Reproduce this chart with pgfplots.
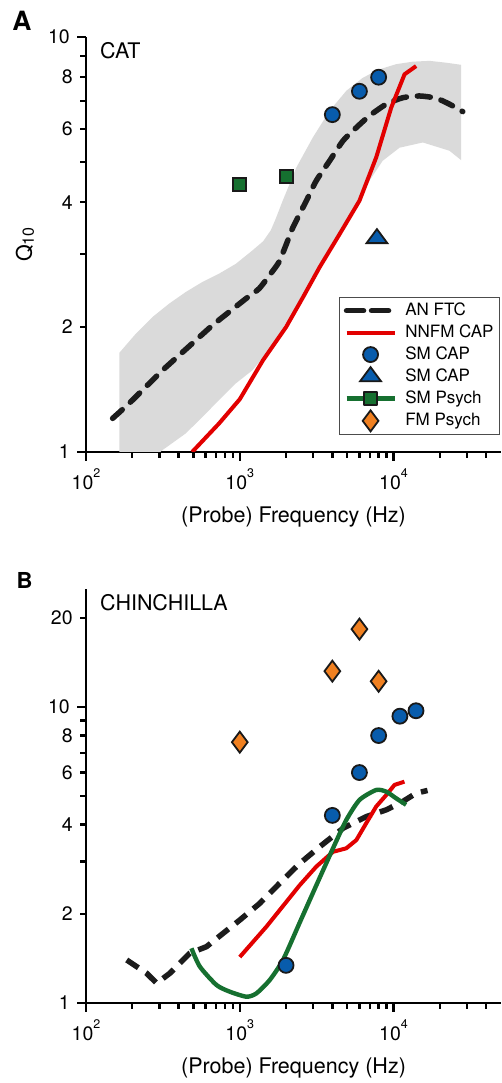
\documentclass[border=0pt]{standalone}
\usepackage{fontspec}
\setmainfont{TeX Gyre Heros}
\usepackage{pgfplots}
\pgfplotsset{compat=1.18}

\definecolor{bandgray}{RGB}{218,218,218}
\definecolor{capred}{RGB}{226,0,0}
\definecolor{psgreen}{RGB}{22,112,48}
\definecolor{smblue}{RGB}{8,92,172}
\definecolor{fmorange}{RGB}{240,128,32}
\definecolor{ftcblack}{RGB}{28,28,28}
\definecolor{edgeblack}{RGB}{25,25,25}

\newcommand\sups[1]{\raisebox{12pt}{\fontsize{12.5}{12.5}\selectfont #1}}

\pgfplotsset{
  legend image code/.code={\draw[mark repeat=2,mark phase=2,#1] plot coordinates {(0pt,0pt) (24pt,0pt) (48pt,0pt)};},
  ftc/.style={color=ftcblack, line width=5.5pt, dash pattern=on 13pt off 11pt, line cap=round, line join=round},
  nnfm/.style={color=capred, line width=4pt, line join=round},
  psline/.style={color=psgreen, line width=4.4pt, line join=round},
  circ/.style={mark=*, mark size=7.5pt, mark options={fill=smblue, draw=edgeblack, line width=1.8pt, solid}},
  tri/.style={mark=triangle*, mark size=12pt, mark options={fill=smblue, draw=edgeblack, line width=1.8pt, yscale=0.78, solid}},
  sq/.style={mark=square*, mark size=6.5pt, mark options={fill=psgreen, draw=edgeblack, line width=2pt, solid}},
  diam/.style={mark=diamond*, mark size=10.5pt, mark options={fill=fmorange, draw=edgeblack, line width=1.8pt, solid}},
}

\begin{document}
\fontsize{21.5}{24}\selectfont
\begin{tikzpicture}
\useasboundingbox (0,0) rectangle (501pt,1083pt);

% ---------------- Panel A: CAT ----------------
\begin{axis}[
    scale only axis, xmode=log, ymode=log, width=415pt, height=415pt,
    at={(86pt,631pt)}, anchor=south west,
    xmin=100, xmax=50000, ymin=1, ymax=10,
    axis x line*=bottom, axis y line*=left,
    axis line style={line width=2.6pt, black},
    tick align=outside,
    major tick length=9pt, minor tick length=6pt,
    tick style={black, line width=2.4pt},
    xtick={100,1000,10000},
    xticklabels={10\sups{2},10\sups{3},10\sups{4}},
    minor xtick={200,300,400,500,600,700,800,900,2000,3000,4000,5000,6000,7000,8000,9000,20000,30000,40000},
    ytick={1,10}, yticklabels={1,10},
    minor ytick={2,3,4,5,6,7,8,9},
    extra y ticks={2,4,6,8}, extra y tick labels={2,4,6,8},
    extra y tick style={major tick length=6pt},
    tick label style={font=\fontsize{19.5}{20}\selectfont},
    xlabel={(Probe) Frequency (Hz)},
    xlabel style={at={(axis description cs:0.5,-0.157)}, anchor=center, font=\fontsize{21.5}{24}\selectfont},
    ylabel={Q\raisebox{-2pt}{\fontsize{16}{16}\selectfont 10}},
    ylabel style={at={(axis description cs:-0.147,0.5)}, anchor=center, font=\fontsize{21.5}{24}\selectfont},
    legend style={at={(rel axis cs:0.998,0.041)}, anchor=south east, draw=black!70, line width=1.2pt,
      fill=white, font=\fontsize{17}{20}\selectfont, inner xsep=4pt, inner ysep=3pt,
      row sep=2pt, column sep=6pt, cells={anchor=west}},
]
% AN FTC range band
\addplot[fill=bandgray, draw=none, forget plot] coordinates {
(164.6,0.85) (164.6,1.733) (211,1.928) (271,2.115) (347,2.277) (446,2.43) (573,2.57)
(734,2.69) (942,2.84) (1209,3.06) (1420,3.22) (1590,3.42) (1714,3.65) (1901,4.03) (2335,4.85) (2990,5.73)
(3840,6.64) (4930,7.42) (6320,7.98) (8110,8.36) (10400,8.60) (13340,8.72) (17140,8.76)
(22000,8.67) (27500,8.57) (27500,5.05) (23100,5.32) (15500,5.57) (10940,5.41) (8490,5.03)
(7100,4.55) (6010,4.03) (4460,3.36) (3310,2.80) (2565,2.37) (1990,2.04) (1550,1.758) (1209,1.574)
(942,1.463) (734,1.334) (573,1.216) (446,1.109) (315,1.011) (240,0.93)
} -- cycle;
% AN FTC mean
\addplot[ftc, forget plot, smooth, tension=0.4] coordinates {
(149,1.205) (191,1.31) (245,1.436) (315,1.574) (404,1.711) (518,1.859) (665,2.02)
(853,2.175) (1094,2.34) (1335,2.475) (1590,2.69) (1800,2.87) (1990,3.14) (2220,3.48)
(2710,4.03) (3150,4.51) (3840,5.03) (4690,5.62) (5730,6.05) (6980,6.46) (8970,6.89)
(11500,7.14) (14750,7.21) (18930,7.12) (23100,6.89) (28200,6.61)
};
% NNFM CAP
\addplot[nnfm, forget plot] coordinates {
(490,1.0) (734,1.172) (1000,1.34) (1416,1.664) (2000,2.0) (2578,2.36) (3310,2.79)
(4460,3.35) (6000,4.03) (7720,5.13) (9660,6.76) (11790,8.13) (14030,8.51)
};
\addplot[only marks, circ, forget plot] coordinates {(4000,6.5) (6000,7.4) (8000,8.0)};
\addplot[only marks, tri, forget plot] coordinates {(7800,3.27)};
\addplot[only marks, sq, forget plot] coordinates {(1000,4.4) (2000,4.6)};

\addlegendimage{ftc, dash pattern=on 17pt off 8pt}
\addlegendentry{AN FTC}
\addlegendimage{nnfm}
\addlegendentry{NNFM CAP}
\addlegendimage{only marks, circ}
\addlegendentry{SM CAP}
\addlegendimage{only marks, tri}
\addlegendentry{SM CAP}
\addlegendimage{psline, sq}
\addlegendentry{SM Psych}
\addlegendimage{only marks, diam}
\addlegendentry{FM Psych}
\end{axis}

% ---------------- Panel B: CHINCHILLA ----------------
\begin{axis}[
    scale only axis, xmode=log, ymode=log, width=415pt, height=414pt,
    at={(86pt,80pt)}, anchor=south west,
    xmin=100, xmax=50000, ymin=1, ymax=25,
    axis x line*=bottom, axis y line*=left,
    axis line style={line width=2.6pt, black},
    tick align=outside,
    major tick length=9pt, minor tick length=6pt,
    tick style={black, line width=2.4pt},
    xtick={100,1000,10000},
    xticklabels={10\sups{2},10\sups{3},10\sups{4}},
    minor xtick={200,300,400,500,600,700,800,900,2000,3000,4000,5000,6000,7000,8000,9000,20000,30000,40000},
    ytick={1,10}, yticklabels={1,10},
    minor ytick={2,3,4,5,6,7,8,9},
    extra y ticks={2,4,6,8,20}, extra y tick labels={2,4,6,8,20},
    extra y tick style={major tick length=6pt},
    tick label style={font=\fontsize{19.5}{20}\selectfont},
    xlabel={(Probe) Frequency (Hz)},
    xlabel style={at={(axis description cs:0.5,-0.157)}, anchor=center, font=\fontsize{21.5}{24}\selectfont},
]
\addplot[ftc, dash pattern=on 14pt off 9pt, line cap=butt] coordinates {
(184,1.397) (248,1.26) (288,1.166) (351,1.26) (473,1.472) (608,1.55) (780,1.72)
(1000,1.906) (1349,2.17) (1820,2.54) (2455,2.96) (3310,3.37) (4690,3.89) (6650,4.26)
(8970,4.49) (11480,4.79) (14020,5.11) (16640,5.22)
};
\addplot[nnfm] coordinates {
(1000,1.43) (1490,1.81) (2455,2.50) (3150,2.89) (4040,3.24) (4930,3.33) (5730,3.55)
(6650,4.05) (7720,4.61) (8970,5.04) (10150,5.45) (11770,5.59)
};
\addplot[psline, smooth, tension=0.4] coordinates {
(485,1.53) (550,1.327) (706,1.15) (861,1.092) (1106,1.05) (1283,1.078) (1567,1.196)
(1910,1.397) (2455,1.87) (3150,2.50) (4040,3.33) (4930,4.15) (6010,4.85) (7720,5.24)
(8970,5.17) (10400,4.91) (12070,4.67)
};
\addplot[only marks, circ] coordinates {(2000,1.34) (4000,4.3) (6000,6.0) (8000,8.0) (11000,9.3) (14000,9.7)};
\addplot[only marks, diam] coordinates {(1000,7.6) (4000,13.2) (6000,18.3) (8000,12.2)};
\end{axis}

\node[font=\fontsize{26.5}{27}\selectfont\bfseries] at (22pt,1062pt) {A};
\node[font=\fontsize{22}{23}\selectfont\bfseries] at (24.5pt,502.5pt) {B};
\node[anchor=west, inner sep=0pt] at (100pt,1032pt) {CAT};
\node[anchor=west, inner sep=0pt] at (100pt,480pt) {CHINCHILLA};
\end{tikzpicture}
\end{document}
